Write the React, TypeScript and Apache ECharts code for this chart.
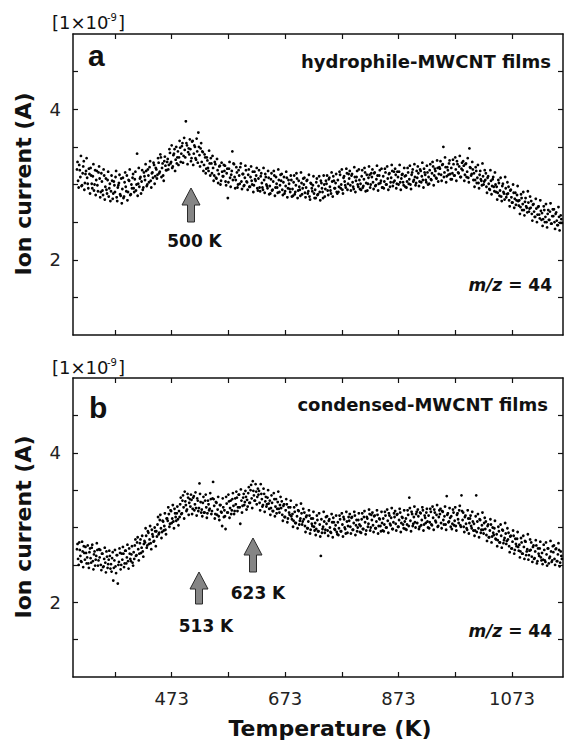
import React, { useEffect, useRef } from "react";
import * as echarts from "echarts";

// Temperature grid of the measurement (K): scan 1 on even, scan 2 on odd temperatures
const T_START = 306;
const T_START_2 = 307;
const T_STEP = 2;

// Panel a: hydrophile-MWCNT films, ion current (×1e-9 A), m/z = 44
const HYDROPHILE = [
  3.20, 3.05, 3.26, 3.10, 2.98, 3.15, 3.31, 3.02, 3.18, 3.09,
  2.95, 3.14, 3.22, 3.01, 3.11, 2.92, 3.19, 3.06, 2.99, 3.16,
  3.08, 2.90, 3.04, 2.86, 3.12, 2.97, 2.93, 3.06, 2.84, 3.01,
  2.91, 3.05, 2.88, 2.99, 3.10, 2.83, 2.96, 3.02, 2.87, 3.08,
  2.94, 2.82, 3.03, 2.97, 3.12, 2.90, 3.05, 2.86, 3.00, 3.09,
  2.95, 3.07, 2.92, 3.41, 3.01, 2.97, 3.10, 3.04, 2.93, 3.16,
  3.06, 3.18, 3.00, 3.12, 3.23, 3.05, 3.15, 3.09, 3.26, 3.11,
  3.20, 3.13, 3.29, 3.17, 3.36, 3.22, 3.12, 3.31, 3.25, 3.19,
  3.34, 3.26, 3.42, 3.30, 3.22, 3.39, 3.47, 3.33, 3.28, 3.44,
  3.36, 3.49, 3.41, 3.55, 3.38, 3.46, 3.84, 3.52, 3.43, 3.40,
  3.47, 3.35, 3.58, 3.41, 3.50, 3.33, 3.44, 3.69, 3.39, 3.48,
  3.30, 3.43, 3.26, 3.36, 3.21, 3.32, 3.18, 3.28, 3.35, 3.15,
  3.22, 3.12, 3.27, 3.08, 3.19, 3.14, 3.25, 3.05, 3.17, 3.11,
  3.18, 3.04, 3.15, 2.82, 3.21, 3.09, 3.13, 3.44, 3.28, 3.10,
  3.06, 3.16, 3.00, 3.12, 3.23, 3.04, 3.14, 2.98, 3.09, 3.19,
  3.03, 3.13, 2.97, 3.10, 3.05, 3.17, 2.99, 3.07, 3.12, 2.95,
  3.08, 2.96, 3.11, 3.02, 2.93, 3.06, 3.14, 3.00, 2.95, 3.09,
  2.98, 3.07, 2.92, 3.04, 3.12, 2.96, 3.01, 2.89, 3.06, 2.99,
  3.05, 2.93, 3.03, 2.88, 2.98, 3.09, 2.95, 3.01, 2.90, 3.06,
  2.94, 3.03, 2.87, 2.99, 3.08, 2.92, 2.97, 2.85, 3.02, 2.95,
  3.00, 2.89, 2.96, 3.06, 2.91, 2.84, 3.02, 2.95, 2.99, 2.88,
  2.93, 3.03, 2.86, 2.98, 2.90, 3.05, 2.95, 2.82, 3.00, 2.94,
  3.01, 2.92, 3.07, 2.97, 2.88, 3.04, 3.11, 2.95, 3.02, 2.90,
  3.06, 2.97, 3.13, 3.00, 2.93, 3.09, 3.04, 2.96, 3.15, 3.01,
  3.08, 2.99, 3.12, 3.03, 2.94, 3.10, 3.05, 3.18, 2.97, 3.06,
  3.01, 3.11, 2.96, 3.07, 3.16, 3.02, 2.92, 3.09, 3.13, 3.00,
  3.10, 3.03, 3.15, 2.98, 3.07, 3.12, 3.01, 3.19, 3.05, 2.96,
  3.11, 3.04, 3.16, 3.00, 3.08, 3.14, 2.97, 3.09, 3.18, 3.03,
  3.05, 3.13, 3.01, 3.10, 3.17, 3.03, 3.08, 3.14, 2.99, 3.11,
  3.12, 3.04, 3.16, 3.07, 3.00, 3.13, 3.20, 3.06, 3.10, 3.02,
  3.09, 3.15, 3.04, 3.18, 3.11, 3.06, 3.21, 3.13, 3.03, 3.16,
  3.10, 3.19, 3.07, 3.15, 3.24, 3.12, 3.18, 3.08, 3.22, 3.14,
  3.21, 3.13, 3.26, 3.50, 3.16, 3.23, 3.11, 3.19, 3.28, 3.14,
  3.22, 3.15, 3.27, 3.12, 3.20, 3.31, 3.16, 3.24, 3.10, 3.21,
  3.19, 3.25, 3.13, 3.28, 3.17, 3.09, 3.48, 3.22, 3.14, 3.20,
  3.15, 3.06, 3.18, 3.09, 3.02, 3.13, 3.07, 2.99, 3.11, 3.04,
  3.06, 2.97, 3.09, 3.01, 2.93, 3.05, 2.98, 3.10, 2.91, 3.00,
  2.97, 2.89, 3.02, 2.92, 2.84, 2.98, 2.90, 2.80, 2.95, 2.87,
  2.88, 2.79, 2.92, 2.83, 2.76, 2.89, 2.81, 2.73, 2.86, 2.78,
  2.79, 2.70, 2.82, 2.74, 2.66, 2.77, 2.71, 2.63, 2.76, 2.68,
  2.69, 2.61, 2.73, 2.64, 2.57, 2.68, 2.60, 2.71, 2.55, 2.65,
  2.62, 2.54, 2.66, 2.57, 2.50, 2.61, 2.53, 2.64, 2.48, 2.58,
  2.58, 2.50, 2.61, 2.52, 2.46, 2.57, 2.49, 2.54,
];

const HYDROPHILE_2 = [
  3.30, 2.96, 3.19, 3.38, 2.99, 3.24, 2.93, 3.14, 3.35, 3.01,
  3.21, 2.88, 3.12, 2.95, 3.27, 3.00, 2.86, 3.18, 2.91, 3.24,
  2.83, 3.15, 2.92, 3.20, 2.80, 3.08, 2.88, 3.17, 2.95, 2.78,
  3.12, 2.81, 3.04, 2.90, 3.18, 2.78, 2.99, 3.13, 2.85, 2.75,
  3.09, 2.84, 3.16, 2.91, 2.79, 3.06, 3.20, 2.87, 2.95, 3.14,
  2.90, 3.17, 3.00, 2.85, 3.22, 3.08, 2.88, 3.19, 2.96, 3.11,
  3.27, 2.98, 3.20, 3.03, 3.31, 2.96, 3.16, 3.29, 3.01, 3.22,
  3.08, 3.35, 3.15, 3.40, 3.10, 3.28, 3.05, 3.37, 3.19, 3.30,
  3.20, 3.47, 3.28, 3.52, 3.24, 3.41, 3.18, 3.50, 3.36, 3.26,
  3.58, 3.30, 3.51, 3.29, 3.62, 3.36, 3.55, 3.27, 3.48, 3.60,
  3.31, 3.57, 3.26, 3.52, 3.35, 3.61, 3.29, 3.50, 3.24, 3.55,
  3.44, 3.18, 3.40, 3.15, 3.36, 3.22, 3.45, 3.12, 3.28, 3.38,
  3.05, 3.30, 3.09, 3.34, 3.02, 3.24, 3.00, 3.29, 3.11, 3.26,
  3.25, 2.99, 3.21, 3.03, 3.30, 2.97, 3.18, 3.06, 3.27, 2.95,
  3.23, 2.96, 3.19, 3.01, 3.28, 2.94, 3.14, 2.99, 3.25, 3.04,
  2.93, 3.20, 2.97, 3.24, 3.00, 2.90, 3.17, 3.05, 3.22, 2.92,
  3.19, 2.91, 3.15, 2.96, 3.22, 2.89, 3.10, 2.98, 3.18, 2.87,
  2.88, 3.15, 2.93, 3.18, 2.85, 3.10, 2.96, 3.20, 2.90, 3.13,
  3.14, 2.86, 3.10, 2.91, 3.17, 2.83, 3.06, 2.94, 3.12, 2.84,
  2.85, 3.12, 2.90, 3.15, 2.82, 3.05, 2.93, 3.16, 2.87, 3.08,
  3.09, 2.83, 3.05, 2.88, 3.13, 2.80, 3.01, 2.91, 3.11, 2.82,
  2.82, 3.08, 2.87, 3.11, 2.79, 3.02, 2.90, 3.12, 2.84, 3.05,
  3.12, 2.86, 3.09, 2.92, 3.16, 2.84, 3.05, 2.95, 3.14, 2.88,
  2.90, 3.17, 2.95, 3.20, 2.88, 3.11, 2.99, 3.21, 2.93, 3.14,
  3.18, 2.92, 3.14, 2.97, 3.23, 2.90, 3.10, 3.00, 3.20, 2.94,
  2.93, 3.19, 2.98, 3.22, 2.91, 3.13, 3.01, 3.24, 2.96, 3.15,
  3.20, 2.94, 3.16, 2.99, 3.25, 2.92, 3.12, 3.02, 3.21, 2.96,
  2.95, 3.21, 3.00, 3.24, 2.93, 3.15, 3.03, 3.26, 2.98, 3.17,
  3.21, 2.95, 3.17, 3.00, 3.26, 2.93, 3.13, 3.03, 3.22, 2.97,
  2.96, 3.22, 3.01, 3.25, 2.94, 3.16, 3.04, 3.27, 2.99, 3.18,
  3.24, 2.98, 3.20, 3.03, 3.29, 2.96, 3.16, 3.06, 3.25, 3.00,
  3.01, 3.27, 3.06, 3.30, 2.99, 3.21, 3.09, 3.32, 3.04, 3.23,
  3.31, 3.05, 3.27, 3.10, 3.36, 3.03, 3.23, 3.13, 3.32, 3.07,
  3.07, 3.33, 3.12, 3.36, 3.05, 3.27, 3.15, 3.38, 3.10, 3.29,
  3.31, 3.05, 3.27, 3.10, 3.35, 3.03, 3.23, 3.12, 3.30, 3.06,
  2.97, 3.23, 3.02, 3.26, 2.95, 3.18, 3.05, 3.28, 3.00, 3.19,
  3.15, 2.89, 3.11, 2.94, 3.19, 2.87, 3.07, 2.97, 3.16, 2.90,
  2.80, 3.06, 2.85, 3.09, 2.78, 3.01, 2.88, 3.10, 2.83, 3.03,
  2.97, 2.71, 2.93, 2.76, 3.00, 2.69, 2.89, 2.79, 2.98, 2.72,
  2.61, 2.87, 2.66, 2.90, 2.59, 2.82, 2.69, 2.91, 2.64, 2.84,
  2.78, 2.52, 2.74, 2.57, 2.81, 2.50, 2.70, 2.60, 2.79, 2.53,
  2.45, 2.71, 2.50, 2.74, 2.43, 2.66, 2.53, 2.75, 2.48, 2.67,
  2.67, 2.41, 2.63, 2.46, 2.70, 2.39, 2.59, 2.49,
];

// Panel b: condensed-MWCNT films, ion current (×1e-9 A), m/z = 44
const CONDENSED = [
  2.71, 2.58, 2.80, 2.62, 2.54, 2.68, 2.75, 2.57, 2.66, 2.60,
  2.52, 2.67, 2.59, 2.73, 2.55, 2.64, 2.49, 2.62, 2.70, 2.56,
  2.60, 2.50, 2.65, 2.47, 2.58, 2.53, 2.68, 2.46, 2.57, 2.62,
  2.51, 2.59, 2.29, 2.56, 2.48, 2.63, 2.25, 2.54, 2.66, 2.50,
  2.57, 2.65, 2.52, 2.69, 2.60, 2.55, 2.72, 2.58, 2.64, 2.53,
  2.67, 2.76, 2.62, 2.80, 2.71, 2.65, 2.84, 2.73, 2.68, 2.78,
  2.80, 2.89, 2.76, 2.93, 2.84, 2.79, 2.97, 2.88, 2.82, 2.95,
  2.95, 3.04, 2.91, 3.10, 2.99, 2.94, 3.08, 3.02, 2.97, 3.12,
  3.09, 3.18, 3.05, 3.22, 3.12, 3.08, 3.25, 3.14, 3.19, 3.11,
  3.22, 3.31, 3.18, 3.36, 3.27, 3.48, 3.30, 3.24, 3.40, 3.33,
  3.28, 3.37, 3.25, 3.42, 3.31, 3.26, 3.39, 3.22, 3.59, 3.34,
  3.24, 3.33, 3.20, 3.36, 3.27, 3.19, 3.31, 3.25, 3.38, 3.22,
  3.61, 3.29, 3.18, 3.33, 3.24, 3.15, 3.30, 3.21, 3.02, 3.27,
  3.23, 2.98, 3.32, 3.20, 3.35, 3.26, 3.18, 3.38, 3.29, 3.22,
  3.31, 3.40, 3.27, 3.44, 3.05, 3.36, 3.29, 3.45, 3.34, 3.41,
  3.37, 3.46, 3.33, 3.50, 3.39, 3.62, 3.43, 3.36, 3.48, 3.41,
  3.44, 3.33, 3.58, 3.38, 3.30, 3.45, 3.35, 3.28, 3.40, 3.32,
  3.36, 3.26, 3.33, 3.22, 3.38, 3.28, 3.19, 3.34, 3.25, 3.30,
  3.26, 3.17, 3.29, 3.14, 3.23, 3.31, 3.12, 3.20, 3.27, 3.15,
  3.18, 3.09, 3.21, 3.06, 3.15, 3.23, 3.04, 3.12, 3.19, 3.08,
  3.11, 3.02, 3.14, 2.99, 3.08, 3.16, 2.97, 3.05, 3.12, 3.01,
  3.06, 2.98, 3.10, 2.95, 3.04, 2.62, 2.93, 3.01, 3.08, 2.97,
  3.05, 2.96, 3.09, 3.00, 2.93, 3.07, 3.13, 2.98, 3.03, 2.94,
  3.07, 2.99, 3.11, 2.95, 3.04, 3.14, 3.00, 2.92, 3.08, 3.02,
  3.09, 3.01, 3.13, 2.97, 3.06, 3.16, 3.03, 2.95, 3.10, 3.04,
  3.02, 3.11, 2.98, 3.14, 3.07, 2.96, 3.12, 3.05, 3.18, 3.00,
  3.10, 3.03, 3.15, 2.99, 3.08, 3.17, 3.02, 3.11, 2.95, 3.06,
  3.12, 3.04, 3.16, 3.00, 3.09, 3.19, 3.05, 3.13, 2.98, 3.07,
  3.14, 3.05, 3.17, 3.01, 3.10, 3.20, 3.06, 3.13, 2.99, 3.08,
  3.12, 3.04, 3.17, 3.40, 3.09, 3.21, 3.02, 3.14, 3.07, 3.18,
  3.06, 3.15, 3.01, 3.19, 3.10, 3.23, 3.04, 3.13, 3.20, 3.08,
  3.16, 3.07, 3.21, 3.03, 3.13, 3.24, 3.09, 3.17, 3.01, 3.14,
  3.18, 3.06, 3.22, 3.10, 3.15, 3.04, 3.42, 3.19, 3.08, 3.13,
  3.15, 3.05, 3.20, 3.09, 3.02, 3.17, 3.11, 3.23, 3.03, 3.43,
  3.10, 3.01, 3.14, 3.05, 2.97, 3.12, 3.06, 3.16, 2.99, 3.08,
  3.05, 2.96, 3.43, 3.08, 2.99, 3.11, 2.93, 3.03, 2.97, 3.06,
  2.98, 2.90, 3.02, 2.87, 2.96, 3.04, 2.88, 2.93, 2.99, 2.85,
  2.91, 2.83, 2.95, 2.80, 2.89, 2.97, 2.79, 2.86, 2.92, 2.82,
  2.84, 2.75, 2.88, 2.72, 2.81, 2.89, 2.70, 2.78, 2.85, 2.74,
  2.77, 2.68, 2.80, 2.65, 2.74, 2.82, 2.63, 2.71, 2.57, 2.69,
  2.70, 2.61, 2.74, 2.58, 2.68, 2.76, 2.55, 2.65, 2.72, 2.60,
  2.66, 2.57, 2.70, 2.54, 2.64, 2.72, 2.52, 2.61, 2.68, 2.56,
  2.67, 2.58, 2.71, 2.55, 2.64, 2.70, 2.53, 2.62,
];

const CONDENSED_2 = [
  2.78, 2.50, 2.70, 2.55, 2.81, 2.47, 2.66, 2.74, 2.52, 2.76,
  2.46, 2.72, 2.53, 2.77, 2.44, 2.68, 2.57, 2.79, 2.49, 2.71,
  2.70, 2.43, 2.65, 2.48, 2.73, 2.40, 2.61, 2.51, 2.69, 2.45,
  2.41, 2.67, 2.46, 2.70, 2.39, 2.63, 2.50, 2.72, 2.44, 2.65,
  2.74, 2.47, 2.69, 2.52, 2.77, 2.45, 2.65, 2.55, 2.75, 2.49,
  2.58, 2.84, 2.63, 2.87, 2.56, 2.79, 2.66, 2.89, 2.61, 2.82,
  2.99, 2.73, 2.95, 2.78, 3.02, 2.71, 2.91, 2.81, 3.00, 2.75,
  2.88, 3.14, 2.93, 3.17, 2.86, 3.09, 2.96, 3.19, 2.91, 3.12,
  3.27, 3.01, 3.23, 3.06, 3.30, 2.99, 3.19, 3.09, 3.28, 3.03,
  3.14, 3.40, 3.19, 3.43, 3.12, 3.35, 3.22, 3.45, 3.17, 3.38,
  3.44, 3.18, 3.40, 3.23, 3.47, 3.16, 3.36, 3.26, 3.45, 3.20,
  3.15, 3.41, 3.20, 3.44, 3.13, 3.36, 3.23, 3.46, 3.18, 3.39,
  3.38, 3.12, 3.34, 3.17, 3.41, 3.10, 3.30, 3.20, 3.39, 3.14,
  3.15, 3.41, 3.20, 3.44, 3.13, 3.36, 3.23, 3.46, 3.18, 3.39,
  3.48, 3.22, 3.44, 3.27, 3.51, 3.20, 3.40, 3.30, 3.49, 3.24,
  3.28, 3.54, 3.33, 3.57, 3.26, 3.49, 3.36, 3.58, 3.31, 3.52,
  3.49, 3.23, 3.45, 3.28, 3.52, 3.21, 3.41, 3.31, 3.50, 3.25,
  3.17, 3.43, 3.22, 3.46, 3.15, 3.38, 3.25, 3.48, 3.20, 3.41,
  3.35, 3.09, 3.31, 3.14, 3.38, 3.07, 3.27, 3.17, 3.36, 3.11,
  3.01, 3.27, 3.06, 3.30, 2.99, 3.22, 3.09, 3.32, 3.04, 3.25,
  3.20, 2.94, 3.16, 2.99, 3.23, 2.92, 3.12, 3.02, 3.21, 2.96,
  2.90, 3.16, 2.95, 3.19, 2.88, 3.11, 2.98, 3.21, 2.93, 3.14,
  3.15, 2.89, 3.11, 2.94, 3.18, 2.87, 3.07, 2.97, 3.16, 2.91,
  2.90, 3.16, 2.95, 3.19, 2.88, 3.11, 2.98, 3.21, 2.93, 3.14,
  3.18, 2.92, 3.14, 2.97, 3.21, 2.90, 3.10, 3.00, 3.19, 2.94,
  2.93, 3.19, 2.98, 3.22, 2.91, 3.14, 3.01, 3.24, 2.96, 3.17,
  3.20, 2.94, 3.16, 2.99, 3.23, 2.92, 3.12, 3.02, 3.21, 2.96,
  2.95, 3.21, 3.00, 3.24, 2.93, 3.16, 3.03, 3.26, 2.98, 3.19,
  3.22, 2.96, 3.18, 3.01, 3.25, 2.94, 3.14, 3.04, 3.23, 2.98,
  2.97, 3.23, 3.02, 3.26, 2.95, 3.18, 3.05, 3.28, 3.00, 3.21,
  3.24, 2.98, 3.20, 3.03, 3.27, 2.96, 3.16, 3.06, 3.25, 3.00,
  2.99, 3.25, 3.04, 3.28, 2.97, 3.20, 3.07, 3.30, 3.02, 3.23,
  3.25, 2.99, 3.21, 3.04, 3.28, 2.97, 3.17, 3.07, 3.26, 3.01,
  2.98, 3.24, 3.03, 3.27, 2.96, 3.19, 3.06, 3.29, 3.01, 3.22,
  3.20, 2.94, 3.16, 2.99, 3.23, 2.92, 3.12, 3.02, 3.21, 2.96,
  2.89, 3.15, 2.94, 3.18, 2.87, 3.10, 2.97, 3.20, 2.92, 3.13,
  3.08, 2.82, 3.04, 2.87, 3.11, 2.80, 3.00, 2.90, 3.09, 2.84,
  2.75, 3.01, 2.80, 3.04, 2.73, 2.96, 2.83, 3.06, 2.78, 2.99,
  2.93, 2.67, 2.89, 2.72, 2.96, 2.65, 2.85, 2.75, 2.94, 2.69,
  2.60, 2.86, 2.65, 2.89, 2.58, 2.81, 2.68, 2.91, 2.63, 2.84,
  2.80, 2.54, 2.76, 2.59, 2.83, 2.52, 2.72, 2.62, 2.81, 2.56,
  2.51, 2.77, 2.56, 2.80, 2.49, 2.72, 2.59, 2.82, 2.54, 2.75,
  2.76, 2.50, 2.72, 2.55, 2.79, 2.48, 2.68, 2.58,
];

const X_MIN = 299;
const X_MAX = 1163;
const X_TICKS = [373, 473, 573, 673, 773, 873, 973, 1073];
const X_LABELS = [473, 673, 873, 1073];
const Y_MIN = 1;
const Y_MAX = 5;
const Y_TICKS = [1.5, 2, 2.5, 3, 3.5, 4, 4.5];
const Y_LABELS = [2, 4];

const FONT = "DejaVu Sans";
const INK = "#111";

const toPairs = (vals: number[], start: number) => vals.map((v, i) => [start + i * T_STEP, v]);

const xAxisDef = (gridIndex: number, position: string, showLabels: boolean) => ({
  type: "value",
  gridIndex,
  position,
  min: X_MIN,
  max: X_MAX,
  axisLine: { show: true, onZero: false, lineStyle: { color: INK, width: 1.5 } },
  axisTick: { show: true, inside: true, length: 5, customValues: X_TICKS, lineStyle: { color: INK, width: 1.2 } },
  axisLabel: {
    show: showLabels,
    customValues: X_LABELS,
    formatter: (v: number) => String(v),
    margin: 12,
    fontSize: 18,
    fontFamily: FONT,
    color: "#222",
  },
  splitLine: { show: false },
});

const yAxisDef = (gridIndex: number, position: string, showLabels: boolean) => ({
  type: "value",
  gridIndex,
  position,
  min: Y_MIN,
  max: Y_MAX,
  axisLine: { show: true, onZero: false, lineStyle: { color: INK, width: 1.5 } },
  axisTick: { show: true, inside: true, length: 5, customValues: Y_TICKS, lineStyle: { color: INK, width: 1.2 } },
  axisLabel: {
    show: showLabels,
    customValues: Y_LABELS,
    formatter: (v: number) => String(v),
    margin: 12,
    fontSize: 18,
    fontFamily: FONT,
    color: "#222",
  },
  splitLine: { show: false },
});

const arrow = (cx: number, top: number, bottom: number) => ({
  type: "polygon",
  shape: {
    points: [
      [cx, top],
      [cx + 9, top + 17],
      [cx + 3.5, top + 17],
      [cx + 3.5, bottom],
      [cx - 3.5, bottom],
      [cx - 3.5, top + 17],
      [cx - 9, top + 17],
    ],
  },
  style: { fill: "#858585", stroke: "#2a2a2a", lineWidth: 1 },
  silent: true,
});

const txt = (text: string, x: number, y: number, font: string, align = "left", extra: any = {}) => ({
  type: "text",
  x,
  y,
  silent: true,
  ...extra,
  style: { text, font, fill: INK, textAlign: align, textVerticalAlign: "middle" },
});

const mzText = (y: number) => ({
  type: "text",
  x: 552,
  y,
  silent: true,
  style: {
    text: "{i|m/z}{n| = 44}",
    textAlign: "right",
    textVerticalAlign: "middle",
    fill: INK,
    rich: {
      i: { fontFamily: FONT, fontSize: 17, fontWeight: "bold", fontStyle: "italic", fill: INK },
      n: { fontFamily: FONT, fontSize: 17, fontWeight: "bold", fill: INK },
    },
  },
});

const unitLabel = (y: number) => [
  txt("[1×10", 52, y, `18px "${FONT}"`),
  txt("-9", 107, y - 5, `10px "${FONT}"`),
  txt("]", 118, y, `18px "${FONT}"`),
];

const scatter = (name: string, axisIndex: number, data: number[][]) => ({
  type: "scatter",
  name,
  xAxisIndex: axisIndex,
  yAxisIndex: axisIndex,
  data,
  symbol: "circle",
  symbolSize: 2.8,
  itemStyle: { color: "#000", opacity: 1 },
  silent: true,
});

export default function App() {
  const ref = useRef<HTMLDivElement>(null);
  useEffect(() => {
    if (!ref.current) return;
    const chart = echarts.init(ref.current, null, { renderer: "svg" });
    const bold = (s: number) => `bold ${s}px "${FONT}"`;
    chart.setOption({
      animation: false,
      backgroundColor: "#fff",
      grid: [
        { left: 73, top: 34, width: 490, height: 301 },
        { left: 73, top: 378, width: 490, height: 299 },
      ],
      xAxis: [
        xAxisDef(0, "bottom", false),
        xAxisDef(0, "top", false),
        xAxisDef(1, "bottom", true),
        xAxisDef(1, "top", false),
      ],
      yAxis: [
        yAxisDef(0, "left", true),
        yAxisDef(0, "right", false),
        yAxisDef(1, "left", true),
        yAxisDef(1, "right", false),
      ],
      series: [
        scatter("hydrophile-MWCNT films", 0, [
          ...toPairs(HYDROPHILE, T_START),
          ...toPairs(HYDROPHILE_2, T_START_2),
        ]),
        scatter("condensed-MWCNT films", 2, [
          ...toPairs(CONDENSED, T_START),
          ...toPairs(CONDENSED_2, T_START_2),
        ]),
      ],
      graphic: [
        ...unitLabel(22),
        ...unitLabel(367),
        txt("a", 88, 55, `bold 30px "Liberation Sans"`),
        txt("b", 89, 407, `bold 30px "Liberation Sans"`),
        txt("hydrophile-MWCNT films", 551, 61.5, bold(18), "right"),
        txt("condensed-MWCNT films", 548, 404, bold(18), "right"),
        mzText(285),
        mzText(631),
        arrow(191, 188, 222),
        txt("500 K", 194.5, 241, bold(17), "center"),
        arrow(199, 572, 604),
        txt("513 K", 206, 626, bold(17), "center"),
        arrow(253, 538, 572),
        txt("623 K", 258, 593, bold(17), "center"),
        txt("Ion current (A)", 23.5, 184, bold(22), "center", { rotation: Math.PI / 2 }),
        txt("Ion current (A)", 23.5, 527, bold(22), "center", { rotation: Math.PI / 2 }),
        txt("Temperature (K)", 330, 728.5, bold(22), "center"),
      ],
    });
    return () => chart.dispose();
  }, []);
  return (
    <div
      ref={ref}
      style={{ position: "absolute", left: 0, top: 0, width: 564, height: 741, background: "#fff" }}
    />
  );
}
